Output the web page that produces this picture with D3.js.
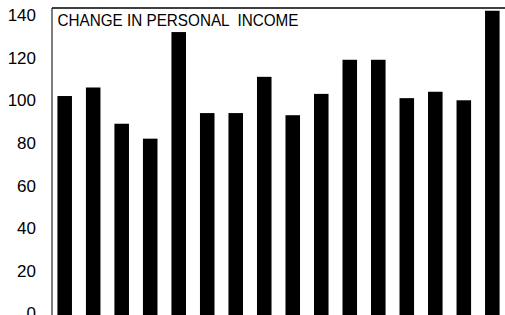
<!DOCTYPE html>
<html lang="en">
    <head>
        <meta charset="utf-8">
        <title>Change in personal income</title>
        <script src="https://cdn.jsdelivr.net/npm/d3@7"></script>
        <style type="text/css">
            body { margin: 0; background: #fff; }
            svg { display: block; }
        </style>
    </head>
    <body>
        <svg width="505" height="315"></svg>
        <script>
            // Datos
            var categorias = ["1", "2", "3", "4", "5", "6", "7", "8", "9", "10", "11", "12", "13", "14", "15", "16"];
            var valores = [102, 106, 89, 82, 132, 94, 94, 111, 93, 103, 119, 119, 101, 104, 100, 142];
            var ticksY = [0, 20, 40, 60, 80, 100, 120, 140];
            var titulo = "CHANGE IN PERSONAL  INCOME";

            var svg = d3.select("svg"),
                margin = {top: 8, right: 0, bottom: 1, left: 52},
                width = +svg.attr("width") - margin.left - margin.right,
                height = +svg.attr("height") - margin.top - margin.bottom,
                g = svg.append("g").attr("transform", "translate(" + margin.left + "," + margin.top + ")");

            var x = d3.scaleBand()
                .domain(categorias)
                .range([0, width])
                .paddingInner(0.49)
                .paddingOuter(0.19);

            // 0 -> y=313.5, 140 -> y=15 (coordenadas de la pagina)
            var y = d3.scaleLinear()
                .domain([0, 140])
                .range([313.5 - margin.top, 15 - margin.top]);

            // Barras
            g.append("g")
                .selectAll("rect")
                .data(valores)
                .enter().append("rect")
                .attr("x", function(d, i) { return x(categorias[i]); })
                .attr("y", function(d) { return y(d); })
                .attr("width", x.bandwidth())
                .attr("height", function(d) { return height + 2 - y(d); })
                .attr("fill", "#000");

            // Eje y, sin lineas
            var ejeY = g.append("g")
                .call(d3.axisLeft(y).tickValues(ticksY).tickSize(0).tickPadding(16));
            ejeY.select(".domain").remove();
            ejeY.selectAll("text")
                .attr("font-family", "'Liberation Sans', Arial, sans-serif")
                .attr("font-size", 17)
                .attr("fill", "#000");

            // Marco: arriba e izquierda
            g.append("line")
                .attr("x1", 0).attr("x2", width)
                .attr("y1", 0).attr("y2", 0)
                .attr("stroke", "#000").attr("stroke-width", 1.5);
            g.append("line")
                .attr("x1", 0).attr("x2", 0)
                .attr("y1", 0).attr("y2", height + 2)
                .attr("stroke", "#000").attr("stroke-width", 1);

            // Titulo
            g.append("text")
                .attr("x", 5.5)
                .attr("y", 17.5)
                .attr("font-family", "'Liberation Sans', Arial, sans-serif")
                .attr("font-size", 17)
                .attr("textLength", 241)
                .attr("lengthAdjust", "spacingAndGlyphs")
                .attr("xml:space", "preserve")
                .style("white-space", "pre")
                .attr("fill", "#000")
                .text(titulo);
        </script>
    </body>
</html>
